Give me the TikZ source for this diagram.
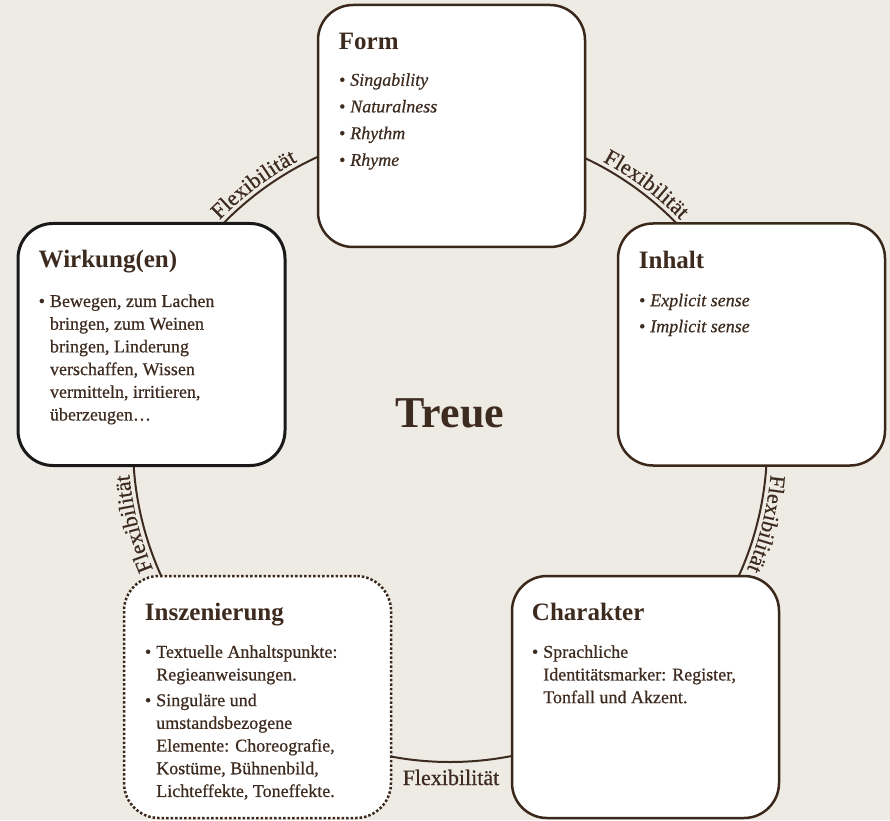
\documentclass[tikz,border=0pt]{standalone}
\usepackage{fontspec}
\setmainfont{Liberation Serif}
\newfontfamily\mediumfont[FakeBold=0.6]{Liberation Serif}
\usetikzlibrary{decorations.text}
\definecolor{paper}{HTML}{EEEBE5}
\definecolor{ink}{HTML}{3D2B1F}
\definecolor{edge}{HTML}{3A281A}
\begin{document}
\begin{tikzpicture}[x=1pt,y=1pt,
	card/.style={draw=edge, fill=white, line width=2.5pt, rounded corners=35pt, minimum width=267pt, minimum height=242pt},
	cardtitle/.style={anchor=base west, inner sep=0pt, text=ink, font=\bfseries\fontsize{25}{25}\selectfont},
	cardbody/.style={anchor=base west, inner sep=0pt, text=ink, font=\mediumfont\fontsize{18}{22.7}\selectfont},
	flexarc/.style={decorate, decoration={text along path, text align=center, raise=5pt, text color=ink,
		text={|\mediumfont\fontsize{22}{22}\selectfont|Flexibilit{ä}t}}}]
	\useasboundingbox (0,0) rectangle (890,820);
	\fill[paper] (0,0) rectangle (890,820);
	\coordinate (mid) at (450,375);
	\draw[ink, line width=2pt] (mid) circle[radius=317pt];
	\path[flexarc] (mid) ++(142:317pt) arc[start angle=142, end angle=112, radius=317pt];
	\path[flexarc] (mid) ++(68:317pt) arc[start angle=68, end angle=38, radius=317pt];
	\path[flexarc] (mid) ++(1:317pt) arc[start angle=1, end angle=-29, radius=317pt];
	\path[flexarc] (mid) ++(209:317pt) arc[start angle=209, end angle=179, radius=317pt];
	\node (flexbot) [anchor=base, text=ink, font=\mediumfont\fontsize{22}{22}\selectfont] at (451,35) {Flexibilität};
	\node (treue) [anchor=base, text=ink, font=\bfseries\fontsize{44}{44}\selectfont] at (450,393) {Treue};

	\node (form) [card] at (451.5,694) {};
	\node (formT) [cardtitle] at ([shift={(22,-46)}]form.north west) {Form};
	\node (formB) [cardbody] at ([shift={(22,-82)}]form.north west) {\itshape
		\begin{tabular}[t]{@{}l@{\hspace{5pt}}l@{}}
			\textbullet & Singability\\[4pt]
			\textbullet & Naturalness\\[4pt]
			\textbullet & Rhythm\\[4pt]
			\textbullet & Rhyme
		\end{tabular}};

	\node (inhalt) [card] at (751.5,475.5) {};
	\node (inhaltT) [cardtitle] at ([shift={(22,-46)}]inhalt.north west) {Inhalt};
	\node (inhaltB) [cardbody] at ([shift={(22,-84)}]inhalt.north west) {\itshape
		\begin{tabular}[t]{@{}l@{\hspace{5pt}}l@{}}
			\textbullet & Explicit sense\\[3.3pt]
			\textbullet & Implicit sense
		\end{tabular}};

	\node (wirk) [card, draw=black!90, line width=3pt] at (151.5,475.5) {};
	\node (wirkT) [cardtitle] at ([shift={(22,-46)}]wirk.north west) {Wirkung(en)};
	\node (wirkB) [cardbody] at ([shift={(22,-85)}]wirk.north west) {%
		\begin{tabular}[t]{@{}l@{\hspace{5pt}}l@{}}
			\textbullet & Bewegen, zum Lachen\\
			& bringen, zum Weinen\\
			& bringen, Linderung\\
			& verschaffen, Wissen\\
			& vermitteln, irritieren,\\
			& überzeugen…
		\end{tabular}};

	\node (insz) [card, dash pattern=on 2.5pt off 2pt] at (257.5,123) {};
	\node (inszT) [cardtitle] at ([shift={(22,-46)}]insz.north west) {Inszenierung};
	\node (inszB) [cardbody] at ([shift={(22,-83)}]insz.north west) {%
		\begin{tabular}[t]{@{}l@{\hspace{5pt}}l@{}}
			\textbullet & Textuelle Anhaltspunkte:\\
			& Regieanweisungen.\\[3pt]
			\textbullet & Singuläre und\\
			& umstandsbezogene\\
			& Elemente: Choreografie,\\
			& Kostüme, Bühnenbild,\\
			& Lichteffekte, Toneffekte.
		\end{tabular}};

	\node (charakter) [card] at (645.5,123) {};
	\node (charakterT) [cardtitle] at ([shift={(21,-46)}]charakter.north west) {Charakter};
	\node (charakterB) [cardbody] at ([shift={(21,-83)}]charakter.north west) {%
		\begin{tabular}[t]{@{}l@{\hspace{5pt}}l@{}}
			\textbullet & Sprachliche\\
			& Identitätsmarker: Register,\\
			& Tonfall und Akzent.
		\end{tabular}};
\end{tikzpicture}
\end{document}
